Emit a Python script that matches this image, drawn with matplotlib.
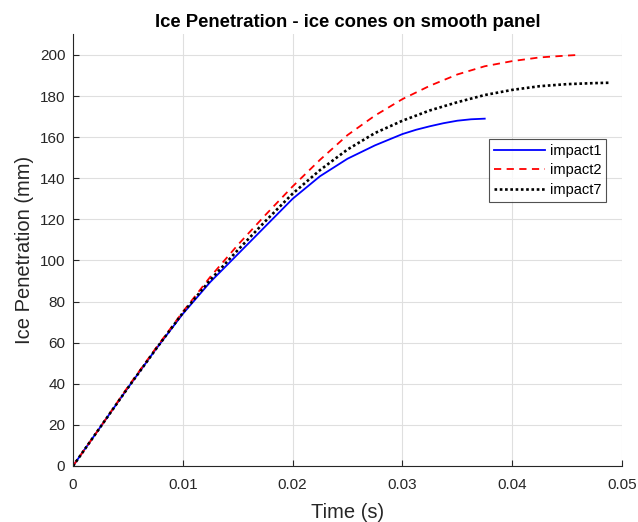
import numpy as np
import matplotlib.pyplot as plt

plt.rcParams['font.family'] = ['Liberation Sans', 'DejaVu Sans']

# values (time in s, penetration in mm)
t1 = [0, 0.0025, 0.005, 0.0075, 0.01, 0.0125, 0.015, 0.0175, 0.02,
      0.0225, 0.025, 0.0275, 0.03, 0.03125, 0.0325, 0.03375, 0.035,
      0.03625, 0.0375]
y1 = [0, 19, 38, 56.5, 74, 89.5, 103, 116.5, 130,
      141, 149.5, 156, 161.5, 163.6, 165.3, 166.8, 168,
      168.7, 169]

t2 = [0, 0.0025, 0.005, 0.0075, 0.01, 0.0125, 0.015, 0.0175, 0.02,
      0.0225, 0.025, 0.0275, 0.03, 0.0325, 0.035, 0.0375, 0.04,
      0.0425, 0.045, 0.046]
y2 = [0, 19, 38.5, 57, 75, 92, 107.5, 122, 136,
      149, 161, 170.5, 178.5, 185, 190.5, 194.5, 197,
      198.8, 199.7, 200]

t7 = [0, 0.0025, 0.005, 0.0075, 0.01, 0.0125, 0.015, 0.0175, 0.02,
      0.0225, 0.025, 0.0275, 0.03, 0.0325, 0.035, 0.0375, 0.04,
      0.0425, 0.045, 0.0475, 0.049]
y7 = [0, 19, 38, 56.5, 74.5, 90.5, 105, 119, 132.5,
      144, 154, 162, 168, 173, 177, 180.5, 183,
      184.8, 185.8, 186.3, 186.5]

labels = ['impact1', 'impact2', 'impact7']
xticks = [0, 0.01, 0.02, 0.03, 0.04, 0.05]
yticks = list(range(0, 201, 20))

fig = plt.figure(figsize=(6.38, 5.22), dpi=100)
ax = fig.add_axes([0.1144, 0.1073, 0.8605, 0.8268])

ax.plot(t1, y1, color='#0000ff', lw=1.3, label=labels[0])
ax.plot(t2, y2, color='#ff0000', lw=1.3, ls=(0, (4, 3)), label=labels[1])
ax.plot(t7, y7, color='black', lw=1.9, ls=(0, (1, 1)), label=labels[2])

ax.set_xlim(0, 0.05)
ax.set_ylim(0, 210)
ax.set_xticks(xticks)
ax.set_xticklabels(['0', '0.01', '0.02', '0.03', '0.04', '0.05'])
ax.set_yticks(yticks)
ax.grid(True, color='#dfdfdf', lw=0.8)
ax.set_axisbelow(True)

for s in ['top', 'right']:
    ax.spines[s].set_visible(False)
for s in ['left', 'bottom']:
    ax.spines[s].set_color('#262626')
    ax.spines[s].set_linewidth(0.8)
ax.tick_params(direction='in', length=4, width=0.8, colors='#262626',
               labelsize=11)
ax.tick_params(axis='x', pad=8.5)
ax.tick_params(axis='y', pad=5.5)

ax.set_title('Ice Penetration - ice cones on smooth panel',
             fontsize=13.3, fontweight='bold', pad=5)
ax.set_xlabel('Time (s)', fontsize=14.5, color='#262626', labelpad=8)
ax.set_ylabel('Ice Penetration (mm)', fontsize=14.5, color='#262626')

leg = ax.legend(loc='upper left', bbox_to_anchor=(0.758, 0.757),
                fontsize=10.5, frameon=True, fancybox=False,
                edgecolor='#262626', borderpad=0.3, labelspacing=0.4,
                handlelength=3.5, handletextpad=0.4, borderaxespad=0)
leg.get_frame().set_linewidth(0.8)

plt.savefig('out.png', dpi=100)
